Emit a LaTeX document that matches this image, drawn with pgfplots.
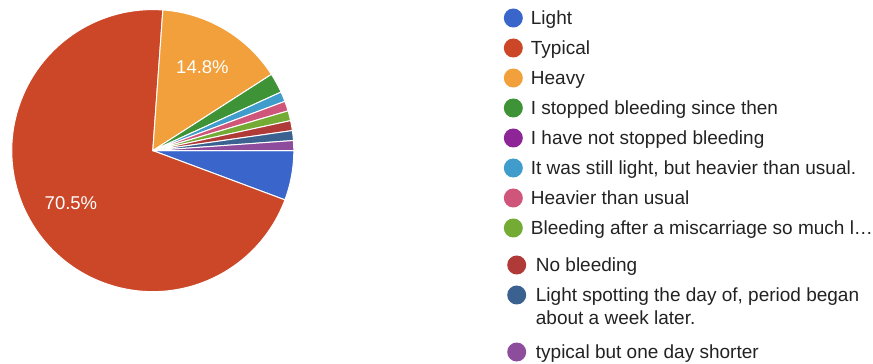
\documentclass[border=0pt]{standalone}
\usepackage{pgfplots}
\pgfplotsset{compat=1.18}
\usepackage{pgfplotstable}
\usepackage{fontspec}
\setmainfont{Liberation Sans}

\definecolor{cLight}{HTML}{3A66CB}
\definecolor{cTypical}{HTML}{CB4727}
\definecolor{cHeavy}{HTML}{F2A03C}
\definecolor{cStopped}{HTML}{3E9337}
\definecolor{cNotStopped}{HTML}{8E2596}
\definecolor{cStill}{HTML}{3F9CCB}
\definecolor{cHeavier}{HTML}{D0557A}
\definecolor{cMiscarriage}{HTML}{74AB34}
\definecolor{cNoBleeding}{HTML}{AF3A37}
\definecolor{cSpotting}{HTML}{3A6190}
\definecolor{cShorter}{HTML}{8D4C9C}
\definecolor{legendtext}{HTML}{222222}

% Number of responses per answer, in legend order
\pgfplotstableread{
count color
5  cLight
62 cTypical
13 cHeavy
2  cStopped
0  cNotStopped
1  cStill
1  cHeavier
1  cMiscarriage
1  cNoBleeding
1  cSpotting
1  cShorter
}\responses

\begin{document}
\begin{tikzpicture}
\begin{axis}[
  x=1pt, y=1pt,
  xmin=0, xmax=873, ymin=0, ymax=364,
  scale only axis,
  axis lines=none,
  clip=false,
]
% pie geometry
\def\cx{152.8}
\def\cy{213.4}
\def\R{141}
\def\startangle{0}

% total number of responses
\pgfplotstablegetrowsof{\responses}
\pgfmathtruncatemacro\lastrow{\pgfplotsretval-1}
\xdef\total{0}
\foreach \i in {0,...,\lastrow}{
  \pgfplotstablegetelem{\i}{count}\of\responses
  \pgfmathtruncatemacro\t{\total+\pgfplotsretval}
  \xdef\total{\t}
}

% slices, clockwise from the start angle
\xdef\cum{0}
\foreach \i in {0,...,\lastrow}{
  \pgfplotstablegetelem{\i}{count}\of\responses
  \edef\n{\pgfplotsretval}
  \pgfplotstablegetelem{\i}{color}\of\responses
  \edef\c{\pgfplotsretval}
  \pgfmathsetmacro\a{\startangle-(360/\total)*\cum}
  \pgfmathsetmacro\b{\startangle-(360/\total)*(\cum+\n)}
  \pgfmathsetmacro\m{(\a+\b)/2}
  \pgfmathsetmacro\pct{(100/\total)*\n}
  \pgfmathsetmacro\lx{\cx+0.69*\R*cos(\m)}
  \pgfmathsetmacro\ly{\cy+0.69*\R*sin(\m)}
  \ifnum\n>0
    \edef\temp{\noexpand\fill[\c, draw=white, line width=1pt, line join=round]
      (axis cs:\cx,\cy) -- ++(\a:\R pt) arc[start angle=\a, end angle=\b, radius=\R pt] -- cycle;}
    \temp
  \fi
  \ifnum\n>9
    \edef\temp{\noexpand\node[text=white, font=\noexpand\fontsize{18.5}{22}\noexpand\selectfont]
      at (axis cs:\lx,\ly) {\noexpand\pgfmathprintnumber[fixed,precision=1,assume math mode=true]{\pct}\noexpand\%};}
    \temp
  \fi
  \pgfmathtruncatemacro\newcum{\cum+\n}
  \xdef\cum{\newcum}
}

% legend
\foreach \col/\kx/\tx/\yy/\lab in {
  cLight/513.3/530.7/18/{Light},
  cTypical/513.3/530.7/48/{Typical},
  cHeavy/513.3/530.7/78/{Heavy},
  cStopped/513.3/530.7/108/{I stopped bleeding since then},
  cNotStopped/513.3/530.7/138/{I have not stopped bleeding},
  cStill/513.3/530.7/168/{It was still light, but heavier than usual.},
  cHeavier/513.3/530.7/198/{Heavier than usual},
  cMiscarriage/513.3/530.7/228/{Bleeding after a miscarriage so much l…},
  cNoBleeding/516.7/535.7/265/{No bleeding},
  cSpotting/516.7/535.7/295/{Light spotting the day of, period began},
  cShorter/516.7/535.7/352/{typical but one day shorter}%
}{
  \edef\temp{\noexpand\fill[\col] (axis cs:\kx,{364-\yy}) circle[radius=9.5pt];}
  \temp
  \edef\temp{\noexpand\node[anchor=base west, inner sep=0pt, text=legendtext,
    font=\noexpand\fontsize{19}{23}\noexpand\selectfont]
    at (axis cs:\tx,{364-\yy-6.8}) {\lab};}
  \temp
}
\node[anchor=base west, inner sep=0pt, text=legendtext, font=\fontsize{19}{23}\selectfont]
  at (axis cs:535.7,{364-318-6.8}) {about a week later.};
\end{axis}
\pgfresetboundingbox
\path[use as bounding box] (0,0) rectangle (873pt,364pt);
\end{tikzpicture}
\end{document}
